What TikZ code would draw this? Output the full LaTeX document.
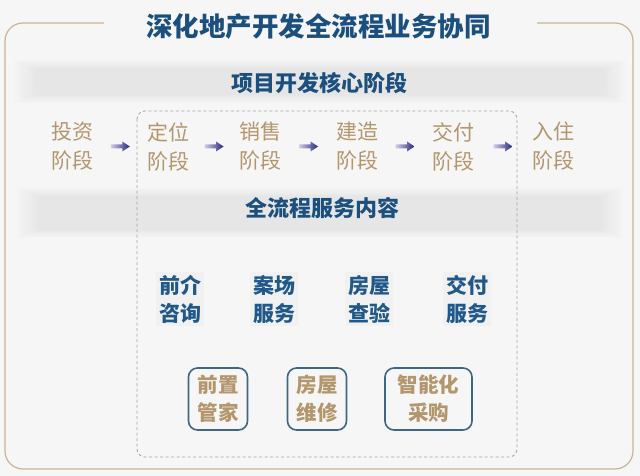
\documentclass[tikz,border=0pt]{standalone}
\usepackage{fontspec}
\setmainfont{Noto Sans CJK SC}
\usetikzlibrary{calc}
\definecolor{bgc}{HTML}{F6F6F6}
\definecolor{titleblue}{HTML}{1B4F7E}
\definecolor{svcblue}{HTML}{20588A}
\definecolor{tanc}{HTML}{B3966C}
\definecolor{framec}{HTML}{C9B393}
\definecolor{boxc}{HTML}{3F6784}
\definecolor{dashc}{HTML}{A4A4A4}
\definecolor{arL}{HTML}{D2CCE8}
\definecolor{arR}{HTML}{23287A}
\newcommand\gradarrow[2]{%
  \path[left color=arL, right color=arR]
   let \p1=($(#1.east)!0.5!(#2.west)$) in
   (\x1-9.5pt,\y1-2pt) -- (\x1+2pt,\y1-2pt) -- (\x1+2pt,\y1-5pt) -- (\x1+9.5pt,\y1)
   -- (\x1+2pt,\y1+5pt) -- (\x1+2pt,\y1+2pt) -- (\x1-9.5pt,\y1+2pt) -- cycle;}
\begin{document}
\begin{tikzpicture}[x=1pt,y=-1pt,
  stage/.style={inner sep=0pt, text=tanc, align=center, font=\fontsize{21}{29}\selectfont},
  svc/.style={inner sep=3pt, text=svcblue, align=center, font=\bfseries\fontsize{21}{28}\selectfont,
              fill=black, fill opacity=0.018, text opacity=1},
  pbox/.style={draw=boxc, line width=1.6pt, rounded corners=9pt, align=center, text=tanc,
               font=\bfseries\fontsize{20.5}{28}\selectfont, inner xsep=9pt, inner ysep=4pt,
               minimum height=62pt},
  heading/.style={text=titleblue, font=\bfseries\fontsize{22}{26}\selectfont, inner sep=0pt},
  band/.style={fill=black, fill opacity=0.006},
]
% background and bounding box
\path[fill=bgc] (0,0) rectangle (640,476);
\useasboundingbox (0,0) rectangle (640,476);

% blurred bands
\foreach \i in {0,...,7} {
  \path[band] (14+3*\i,60+1.2*\i) rectangle (626-3*\i,103-1.2*\i);
  \path[band] (17+3*\i,188+1.2*\i) rectangle (623-3*\i,238-1.2*\i);
}

% outer frame with gap for the title
\draw[framec, line width=1.2pt, rounded corners=18pt]
  (104,23) -- (5,23) -- (5,469) -- (633,469) -- (633,23) -- (537,23);

% title
\node[heading, font=\bfseries\fontsize{26.5}{30}\selectfont] (title) at (318.5,27) {深化地产开发全流程业务协同};

% dashed container
\draw[dashc, line width=0.8pt, dash pattern=on 3pt off 2.5pt, rounded corners=8pt]
  (137,111) rectangle (517,457);

% headings
\node[heading] (h1) at (319,83) {项目开发核心阶段};
\node[heading] (h2) at (322,208) {全流程服务内容};

% stages
\node[stage] (s1) at (72.5,146.5) {投资\\阶段};
\node[stage] (s2) at (168,146.5) {定位\\阶段};
\node[stage] (s3) at (260,146.5) {销售\\阶段};
\node[stage] (s4) at (357,146.5) {建造\\阶段};
\node[stage] (s5) at (453,146.5) {交付\\阶段};
\node[stage] (s6) at (553,146.5) {入住\\阶段};

\gradarrow{s1}{s2}
\gradarrow{s2}{s3}
\gradarrow{s3}{s4}
\gradarrow{s4}{s5}
\gradarrow{s5}{s6}

% services
\node[svc] (v1) at (180,299) {前介\\咨询};
\node[svc] (v2) at (274,299) {案场\\服务};
\node[svc] (v3) at (369,299) {房屋\\查验};
\node[svc] (v4) at (467,299) {交付\\服务};

% boxed services
\node[pbox] (b1) at (218,399) {前置\\管家};
\node[pbox] (b2) at (317,399) {房屋\\维修};
\node[pbox, minimum width=87pt] (b3) at (428.5,399) {智能化\\采购};
\end{tikzpicture}
\end{document}
